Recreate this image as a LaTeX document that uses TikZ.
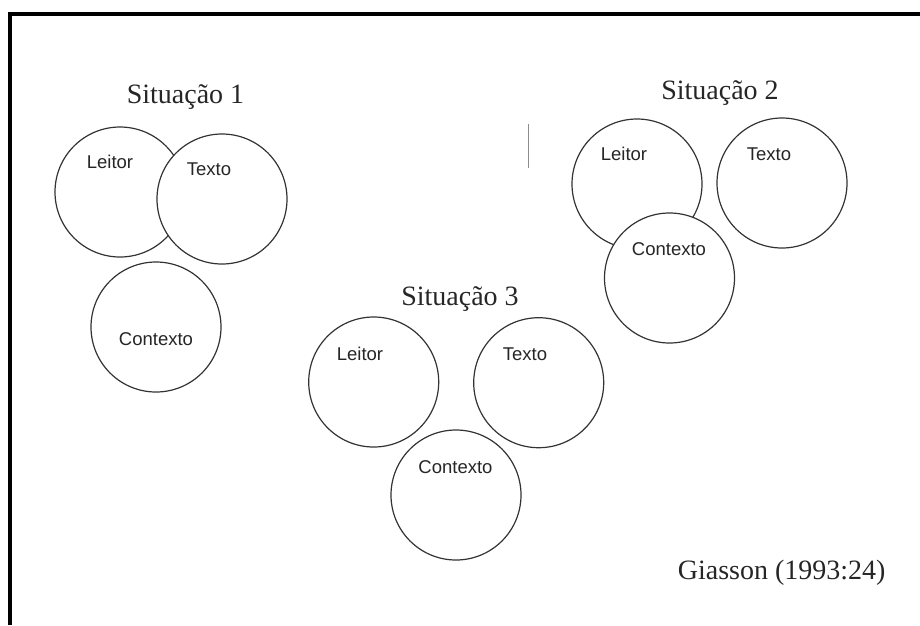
\documentclass[tikz,border=0pt]{standalone}
\usepackage{fontspec}
\setmainfont{Liberation Serif}
\setsansfont{Liberation Sans}
\usetikzlibrary{positioning}

\tikzset{
  ring/.style={circle, draw=black!80, fill=white, line width=1.2pt, minimum size=130pt},
  ringtxt/.style={anchor=base, text=black!85, font=\sffamily\fontsize{18.5}{18.5}\selectfont},
  titletxt/.style={anchor=base, text=black!85, font=\rmfamily\fontsize{28}{28}\selectfont}
}

\begin{document}
\begin{tikzpicture}[x=1pt,y=-1pt]
                \tikzstyle{every node}+=[inner sep=0pt]
                \useasboundingbox (0,0) rectangle (920,625);
                % frame
                \coordinate (fbl) at (10,625);
                \coordinate (ftl) at (10,14);
                \coordinate (ftr) at (920,14);
                \draw [black, line width=4pt] (fbl) -- (ftl) -- (ftr);
                % scan mark
                \coordinate (mtop) at (528,124);
                \coordinate (mbot) at (528,168);
                \draw [black!45, line width=1pt] (mtop) -- (mbot);
                % Situacao 1
                \node [titletxt] (titleA) at (185.5,103) {Situação 1};
                \node [ring] (leitorA) at (120,192) {};
                \node [ring] (textoA) at (222,199) {};
                \node [ring] (contextoA) at (156,327) {};
                \node [ringtxt] (leitorAtxt) at (110,168) {Leitor};
                \node [ringtxt] (textoAtxt) at (209,175) {Texto};
                \node [ringtxt] (contextoAtxt) at (156,345) {Contexto};
                % Situacao 2
                \node [titletxt] (titleB) at (720,99.5) {Situação 2};
                \node [ring] (leitorB) at (637,184) {};
                \node [ring] (textoB) at (782,183) {};
                \node [ring] (contextoB) at (669.5,278) {};
                \node [ringtxt] (leitorBtxt) at (624,160) {Leitor};
                \node [ringtxt] (textoBtxt) at (769,160) {Texto};
                \node [ringtxt] (contextoBtxt) at (669,255) {Contexto};
                % Situacao 3
                \node [titletxt] (titleC) at (460,305) {Situação 3};
                \node [ring] (leitorC) at (373.7,382) {};
                \node [ring] (textoC) at (538.7,382.7) {};
                \node [ring] (contextoC) at (456,495) {};
                \node [ringtxt] (leitorCtxt) at (360,360) {Leitor};
                \node [ringtxt] (textoCtxt) at (525,360) {Texto};
                \node [ringtxt] (contextoCtxt) at (455.5,473) {Contexto};
                % source
                \node [titletxt] (source) at (781.7,579) {Giasson (1993:24)};
\end{tikzpicture}
\end{document}
